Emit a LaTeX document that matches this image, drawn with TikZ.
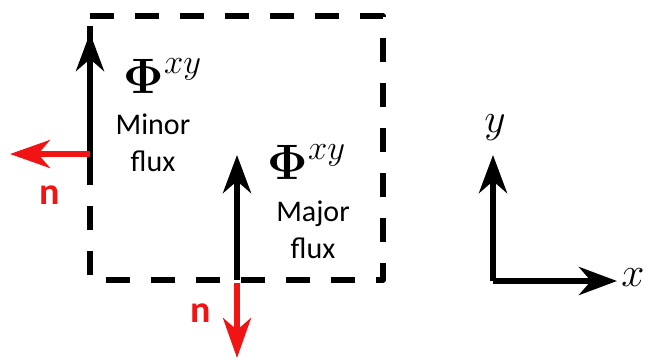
\documentclass[tikz,border=0pt]{standalone}
\usepackage{bm}
\usepackage{fontspec}
\newfontfamily\labelfont{Carlito}
\usetikzlibrary{arrows.meta}
\definecolor{normalred}{RGB}{240,20,20}
\tikzset{
  boxline/.style={line width=2.8pt, dash pattern=on 12pt off 10.5pt, line join=round},
  fluxarrow/.style={line width=3pt, -{Stealth[length=19pt,width=14pt,inset=6pt]}},
  normalarrow/.style={normalred, line width=2.7pt, -{Stealth[length=20pt,width=14pt,inset=6pt]}},
  fluxlabel/.style={inner sep=0pt, font=\fontsize{24}{28}\selectfont},
  fluxtext/.style={inner sep=0pt, align=center, font=\labelfont\fontsize{15}{18.5}\selectfont},
  normallabel/.style={inner sep=0pt, normalred, font=\labelfont\bfseries\fontsize{19}{22}\selectfont},
  axislabel/.style={inner sep=0pt, font=\fontsize{22}{26}\selectfont}
}
\begin{document}
\begin{tikzpicture}[x=0.5pt, y=-0.5pt]
  \useasboundingbox (0,0) rectangle (647,359);

  % Control volume
  \coordinate (tl) at (90,16);
  \coordinate (tr) at (383,16);
  \coordinate (br) at (383,280);
  \coordinate (bl) at (90,280);
  \draw [boxline] (tl) -- (tr) -- (br) -- (bl) -- cycle;

  % Minor flux on the left face
  \coordinate (minorfoot) at (90,173);
  \coordinate (minortip) at (90,33);
  \draw [fluxarrow] (minorfoot) -- (minortip);
  \coordinate (leftface) at (90,154);
  \coordinate (leftnormal) at (10,154);
  \draw [normalarrow] (leftface) -- (leftnormal);
  \node [normallabel] (nleft) at (50,195) {n};
  \node [fluxlabel] (phiminor) at (163,76) {$\bm{\Phi}^{xy}$};
  \node [fluxtext] (minortext) at (153,143) {Minor\\flux};

  % Major flux on the bottom face
  \coordinate (majorfoot) at (237,280);
  \coordinate (majortip) at (237,155);
  \draw [fluxarrow] (majorfoot) -- (majortip);
  \coordinate (bottomface) at (237,283);
  \coordinate (bottomnormal) at (237,358);
  \draw [normalarrow] (bottomface) -- (bottomnormal);
  \node [normallabel] (nbottom) at (201,313) {n};
  \node [fluxlabel] (phimajor) at (307,162) {$\bm{\Phi}^{xy}$};
  \node [fluxtext] (majortext) at (313,230) {Major\\flux};

  % Axes
  \coordinate (origin) at (493,281);
  \coordinate (ytip) at (493,155);
  \coordinate (xtip) at (617,281);
  \draw [fluxarrow] (origin) -- (ytip);
  \draw [fluxarrow] (origin) -- (xtip);
  \node [axislabel] (ylabel) at (495,128) {$y$};
  \node [axislabel] (xlabel) at (633,278) {$x$};
\end{tikzpicture}
\end{document}
